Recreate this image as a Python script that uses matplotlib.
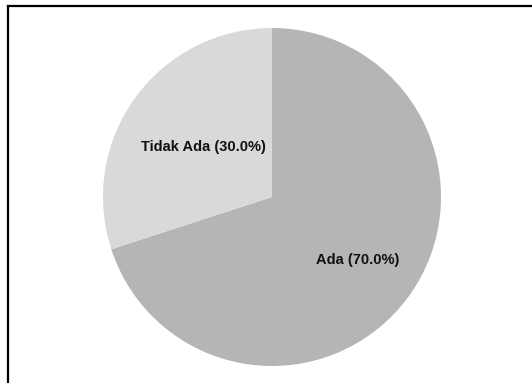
import numpy as np
import matplotlib.pyplot as plt
from matplotlib.lines import Line2D

labels = ["Ada", "Tidak Ada"]
values = [70.0, 30.0]
colors = ["#b5b5b5", "#d9d9d9"]
label_dist = [0.63, 0.50]

plt.rcParams['font.family'] = ['Liberation Sans', 'DejaVu Sans']

fig = plt.figure(figsize=(5.32, 3.83), dpi=100)
W, H = 532, 383

# pie placed by pixel box: centre (272, 197), radius 169
cx, cy, r = 272, 197, 169
ax = fig.add_axes([(cx - r) / W, 1 - (cy + r) / H, 2 * r / W, 2 * r / H])

wedges, _ = ax.pie(values, colors=colors, startangle=90, counterclock=False,
                   wedgeprops=dict(linewidth=0))
ax.set_aspect('equal')
ax.set_xlim(-1, 1)
ax.set_ylim(-1, 1)

for w, lab, val, d in zip(wedges, labels, values, label_dist):
    mid = np.deg2rad((w.theta1 + w.theta2) / 2)
    ax.text(d * np.cos(mid), d * np.sin(mid), "{} ({:.1f}%)".format(lab, val),
            ha='center', va='center', fontsize=10.5, fontweight='bold', color='#111111')

# frame lines (top and left only)
fig.add_artist(Line2D([8 / W, 1], [1 - 6 / H, 1 - 6 / H], transform=fig.transFigure,
                      color='black', linewidth=1.6, solid_capstyle='projecting'))
fig.add_artist(Line2D([8 / W, 8 / W], [1 - 6 / H, 0], transform=fig.transFigure,
                      color='black', linewidth=1.6, solid_capstyle='projecting'))

fig.savefig('out.png', dpi=100)
